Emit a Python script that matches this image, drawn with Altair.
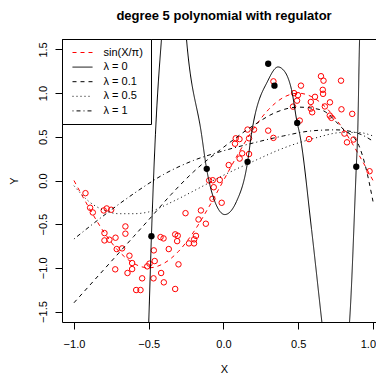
import altair as alt
import pandas as pd

FONT = "Liberation Sans"

# ---- observed noisy sample (red circles) ----
obs_x = [-0.923, -0.892, -0.874, -0.801, -0.781, -0.751, -0.796, -0.796, -0.763, -0.722,
         -0.656, -0.656, -0.714, -0.678, -0.724, -0.629, -0.611, -0.611, -0.642, -0.510,
         -0.495, -0.544, -0.584, -0.555, -0.468, -0.466, -0.460, -0.417, -0.399, -0.421,
         -0.401, -0.366, -0.323, -0.323, -0.306, -0.310, -0.301, -0.254, -0.231, -0.197,
         -0.196, -0.184, -0.167, -0.151, -0.118, -0.074, -0.012, -0.065, -0.096, -0.072,
         -0.025, 0.035, 0.108, 0.125, 0.171, 0.077, 0.082, 0.107, 0.171, 0.161,
         0.204, 0.299, 0.334, 0.334, 0.572, 0.809, 0.826, 0.870, 0.977, 0.652,
         0.669, 0.786, 0.518, 0.664, 0.666, 0.472, 0.498, 0.612, 0.584, 0.712,
         0.584, 0.593, 0.678, 0.711, 0.722, 0.789, 0.861, 0.510, 0.465, 0.492]
obs_y = [-0.145, -0.312, -0.366, -0.343, -0.320, -0.335, -0.602, -0.686, -0.678, -0.655,
         -0.526, -0.609, -0.785, -0.777, -1.017, -0.861, -0.945, -1.014, -1.059, -0.983,
         -0.952, -1.120, -1.254, -1.254, -1.120, -0.800, -0.922, -1.059, -1.166, -0.648,
         -0.663, -0.785, -1.242, -0.617, -0.632, -0.694, -0.960, -0.374, -0.720, -0.720,
         -0.674, -0.634, -0.446, -0.343, -0.495, -0.209, -0.255, -0.077, 0.000, 0.003,
         0.006, 0.177, 0.251, 0.311, 0.303, 0.421, 0.483, 0.474, 0.483, 0.583,
         0.583, 0.571, 0.488, 1.135, 0.474, 0.537, 0.437, 0.469, 0.106, 1.194,
         1.143, 1.143, 1.086, 1.038, 0.992, 1.000, 0.977, 0.958, 0.899, 0.895,
         0.823, 0.781, 0.848, 0.743, 0.717, 0.815, 0.763, 0.686, 0.846, 0.914]

# ---- training points (black dots) ----
train_x = [-0.482, -0.112, 0.161, 0.299, 0.341, 0.493, 0.888]
train_y = [-0.637, 0.134, 0.214, 1.337, 1.086, 0.659, 0.157]

# ---- curves ----
sin_x = [-1.0, -0.9, -0.8, -0.7, -0.6, -0.5, -0.4, -0.3, -0.2, -0.1, 0.0,
         0.1, 0.2, 0.3, 0.4, 0.5, 0.6, 0.7, 0.8, 0.9, 1.0]
sin_y = [0.0, -0.31, -0.59, -0.81, -0.95, -1.0, -0.95, -0.81, -0.59, -0.31, 0.0,
         0.31, 0.59, 0.81, 0.95, 1.0, 0.95, 0.81, 0.59, 0.31, 0.0]

lam0_x = [-0.51, -0.50, -0.482, -0.455, -0.415, -0.39, -0.33, -0.27, -0.247, -0.147,
          -0.114, -0.058, 0.009, 0.087, 0.161, 0.187, 0.299, 0.365, 0.388, 0.455,
          0.493, 0.51, 0.589, 0.658, 0.69, 0.75, 0.81, 0.843, 0.888, 0.898, 0.91, 0.92]
lam0_y = [-2.1, -1.625, -0.64, 0.53, 1.61, 2.1, 2.5, 2.1, 1.61, 0.53,
          0.145, -0.24, -0.39, -0.24, 0.21, 0.53, 1.15, 1.30, 1.285, 1.04,
          0.66, 0.53, -0.56, -1.62, -2.1, -2.6, -2.1, -1.62, 0.15, 0.57, 1.61, 2.1]

lam01_x = [-1.0, -0.8, -0.6, -0.5, -0.35, -0.2, 0.0, 0.2, 0.35, 0.5, 0.65, 0.8, 0.9, 0.95, 1.0]
lam01_y = [-1.40, -1.02, -0.64, -0.45, -0.16, 0.10, 0.38, 0.63, 0.78, 0.84, 0.81, 0.59, 0.42, 0.16, -0.24]

lam05_x = [-1.0, -0.9, -0.8, -0.7, -0.6, -0.5, -0.35, -0.2, 0.0, 0.2, 0.4, 0.6, 0.8, 0.9, 1.0]
lam05_y = [-0.06, -0.24, -0.34, -0.38, -0.38, -0.36, -0.25, -0.12, 0.06, 0.22, 0.37, 0.48, 0.55, 0.55, 0.51]

lam1_x = [-1.0, -0.8, -0.6, -0.4, -0.2, 0.0, 0.2, 0.4, 0.6, 0.75, 0.9, 1.0]
lam1_y = [-0.67, -0.40, -0.15, 0.07, 0.23, 0.34, 0.43, 0.51, 0.57, 0.58, 0.54, 0.45]

names = ["sin(X/π)", "λ = 0", "λ = 0.1", "λ = 0.5", "λ = 1"]
colors = ["#ff0000", "#000000", "#000000", "#000000", "#000000"]
dashes = [[4, 4], [1, 0], [4, 4], [1, 3], [1, 3, 4, 3]]

curves = [(sin_x, sin_y), (lam0_x, lam0_y), (lam01_x, lam01_y), (lam05_x, lam05_y), (lam1_x, lam1_y)]
rows = []
for name, (xs, ys) in zip(names, curves):
    for xv, yv in zip(xs, ys):
        rows.append({"x": xv, "y": yv, "series": name})
lines_df = pd.DataFrame(rows)
obs_df = pd.DataFrame({"x": obs_x, "y": obs_y})
train_df = pd.DataFrame({"x": train_x, "y": train_y})

W, H = 314, 283
xscale = alt.Scale(domain=[-1.08, 1.02], nice=False, zero=False)
yscale = alt.Scale(domain=[-1.62, 1.62], nice=False, zero=False)

xaxis = alt.Axis(values=[-1, -0.5, 0, 0.5, 1], format=".1f", labelPadding=9.5,
                 labelFlush=5, labelFlushOffset=2.5, labelOverlap=False,
                 title="X", titleX=162, titleY=47, titleAlign="center", titleBaseline="middle")
yaxis = alt.Axis(values=[-1.5, -1, -0.5, 0, 0.5, 1, 1.5], format=".1f",
                 labelAngle=270, labelAlign="center", labelBaseline="bottom", labelPadding=7,
                 labelFlush=False, labelOverlap=False,
                 title="Y", titleX=-48, titleY=141.5, titleAngle=270,
                 titleAlign="center", titleBaseline="middle")

leg = alt.Legend(title=None, orient="none", legendX=0, legendY=0, direction="vertical",
                 symbolType="M-0.6,0H3.4", symbolSize=100, symbolStrokeWidth=1,
                 labelFont=FONT, labelFontSize=11, labelColor="black", labelOffset=22.5,
                 padding=8, rowPadding=2.6, strokeColor="black", fillColor="white",
                 cornerRadius=0, labelLimit=0)

lines = alt.Chart(lines_df).mark_line(strokeWidth=1, clip=True, interpolate="monotone").encode(
    x=alt.X("x:Q", scale=xscale, axis=xaxis),
    y=alt.Y("y:Q", scale=yscale, axis=yaxis),
    color=alt.Color("series:N", scale=alt.Scale(domain=names, range=colors), legend=leg),
    strokeDash=alt.StrokeDash("series:N", scale=alt.Scale(domain=names, range=dashes), legend=leg),
    detail="series:N",
)

obs = alt.Chart(obs_df).mark_point(shape="circle", filled=False, size=30, color="#ff0000",
                                   strokeWidth=1, opacity=1).encode(
    x=alt.X("x:Q", scale=xscale), y=alt.Y("y:Q", scale=yscale))

train = alt.Chart(train_df).mark_circle(size=40, color="#000000", opacity=1).encode(
    x=alt.X("x:Q", scale=xscale), y=alt.Y("y:Q", scale=yscale))

# top edge of the plot box (right edge lies outside the window in the original)
top_edge = alt.Chart(train_df).mark_rule(color="black", strokeWidth=1).encode(
    x=alt.value(0), x2=alt.value(W), y=alt.value(0.5))

chart = alt.layer(obs, lines, train, top_edge).properties(
    width=W, height=H,
    autosize=alt.AutoSizeParams(type="none"),
    padding={"left": 54, "top": 31, "right": 0, "bottom": 52},
    title=alt.Title("degree 5 polynomial with regulator", fontSize=13, fontWeight="bold",
                    font=FONT, anchor="middle", frame="group", offset=6, dx=5,
                    baseline="alphabetic", color="black"),
).configure_view(stroke="transparent").configure_axis(
    grid=False, domain=True, domainColor="black", domainWidth=1,
    tickColor="black", tickSize=7, tickWidth=1,
    labelColor="black", labelFont=FONT, labelFontSize=11,
    titleFont=FONT, titleFontSize=11, titleFontWeight="normal", titleColor="black")

chart.save("out.html", embed_options={"renderer": "svg", "actions": False})
